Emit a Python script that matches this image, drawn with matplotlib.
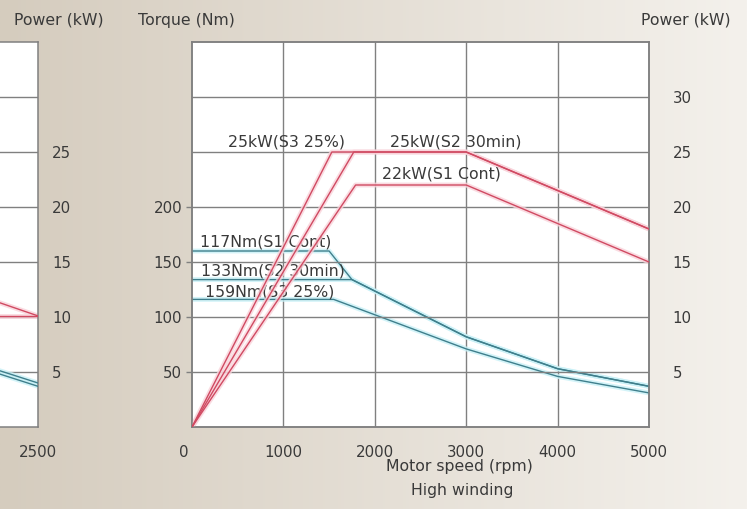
import numpy as np
import matplotlib
matplotlib.use("Agg")
import matplotlib.pyplot as plt
import matplotlib.transforms as mtransforms

plt.rcParams['font.family'] = ['DejaVu Sans']

# ---------------- data ----------------
# Torque curves (Nm) vs motor speed (rpm)
spd_t_s3 = [0, 1500, 1750, 3000, 4000, 5000]
trq_s3 = [160, 160, 134, 82, 53, 37]
spd_t_s2 = [0, 1750, 3000, 4000, 5000]
trq_s2 = [134, 134, 82, 53, 37]
spd_t_s1 = [0, 1550, 3000, 4000, 5000]
trq_s1 = [116, 116, 71, 46, 31]

# Power curves (kW) vs motor speed (rpm)
spd_p_s3 = [0, 1530, 3000, 5000]
pwr_s3 = [0, 25, 25, 18]
spd_p_s2 = [0, 1770, 3000, 5000]
pwr_s2 = [0, 25, 25, 18]
spd_p_s1 = [0, 1790, 3000, 5000]
pwr_s1 = [0, 22, 22, 15]

# cropped neighbouring chart (right edge only)
left_spd = [2237, 2500]
left_pwr_a = [11.6, 10.1]
left_pwr_b = [10.1, 10.1]
left_trq_a = [5.4, 4.0]
left_trq_b = [5.1, 3.7]

x_ticks = [0, 1000, 2000, 3000, 4000, 5000]
torque_ticks = [50, 100, 150, 200]
power_ticks = [5, 10, 15, 20, 25, 30]
left_power_ticks = [5, 10, 15, 20, 25]

power_labels = ["25kW(S3 25%)", "25kW(S2 30min)", "22kW(S1 Cont)"]
power_label_pos = [(1030, 25.9), (2890, 25.9), (2725, 23.0)]
torque_labels = ["117Nm(S1 Cont)", "133Nm(S2 30min)", "159Nm(S3 25%)"]
torque_label_pos = [(810, 168), (890, 142), (855, 123)]

# ---------------- style ----------------
RED = "#d04a62"
RED_HALO = "#f9d3da"
CYAN = "#3f7f8c"
CYAN_HALO = "#c9f1f7"
GRID = "#808080"
TXT = "#3a3a3a"
FS = 11.3

W, H = 747, 509
fig = plt.figure(figsize=(W / 100, H / 100), dpi=100)

# background gradient
bg = fig.add_axes([0, 0, 1, 1], zorder=-10)
xs = np.linspace(0, 1, 256)
c0 = np.array([213, 204, 190]) / 255
c1 = np.array([244, 241, 236]) / 255
grad = c0[None, :] * (1 - xs[:, None]) + c1[None, :] * xs[:, None]
img = np.repeat(grad[None, :, :], 2, axis=0)
bg.imshow(img, aspect='auto', extent=[0, 1, 0, 1])
bg.axis('off')

def px(x0, y0, x1, y1):
    return [x0 / W, 1 - y1 / H, (x1 - x0) / W, (y1 - y0) / H]

# ---------------- main chart ----------------
ax = fig.add_axes(px(192, 42, 649, 427))
ax.set_facecolor("white")
ax.set_xlim(0, 5000)
ax.set_ylim(0, 350)
axp = ax.twinx()
axp.set_ylim(0, 35)

for a in (ax, axp):
    for s in a.spines.values():
        s.set_color(GRID)
        s.set_linewidth(1.1)

# grid
for xv in x_ticks[1:-1]:
    ax.axvline(xv, color=GRID, lw=1.0, zorder=1)
for pv in power_ticks:
    axp.axhline(pv, color=GRID, lw=1.0, zorder=1)

def draw(a, x, y, color, halo):
    a.plot(x, y, color=halo, lw=3.5, solid_capstyle='butt', zorder=2, alpha=0.8)
    a.plot(x, y, color=color, lw=1.0, zorder=3)

draw(ax, spd_t_s3, trq_s3, CYAN, CYAN_HALO)
draw(ax, spd_t_s2, trq_s2, CYAN, CYAN_HALO)
draw(ax, spd_t_s1, trq_s1, CYAN, CYAN_HALO)
draw(axp, spd_p_s3, pwr_s3, RED, RED_HALO)
draw(axp, spd_p_s2, pwr_s2, RED, RED_HALO)
draw(axp, spd_p_s1, pwr_s1, RED, RED_HALO)

ax.set_xticks(x_ticks)
ax.set_xticklabels([str(v) for v in x_ticks])
ax.set_yticks(torque_ticks)
ax.tick_params(axis='x', length=0, pad=13, labelsize=10.8, labelcolor=TXT)
ax.tick_params(axis='y', length=4, width=1.0, color=GRID, pad=3, labelsize=10.8, labelcolor=TXT)
axp.set_yticks(power_ticks)
axp.tick_params(axis='y', length=0, pad=17, labelsize=10.8, labelcolor=TXT)
# shift the "0" label a little to the left
lbl0 = ax.get_xticklabels()[0]
lbl0.set_transform(lbl0.get_transform() + mtransforms.ScaledTranslation(-8 / 100, 0, fig.dpi_scale_trans))

for t, (xv, yv) in zip(power_labels, power_label_pos):
    axp.text(xv, yv, t, ha='center', va='center', fontsize=FS, color=TXT, zorder=5)
for t, (xv, yv) in zip(torque_labels, torque_label_pos):
    ax.text(xv, yv, t, ha='center', va='center', fontsize=FS, color=TXT, zorder=5)

# ---------------- cropped chart on the left ----------------
axl = fig.add_axes(px(-10, 42, 38, 427))
axl.set_facecolor("white")
axl.set_xlim(left_spd[0], left_spd[1])
axl.set_ylim(0, 35)
for s in axl.spines.values():
    s.set_color(GRID)
    s.set_linewidth(1.1)
for pv in power_ticks:
    axl.axhline(pv, color=GRID, lw=1.0, zorder=1)
draw(axl, left_spd, left_pwr_a, RED, RED_HALO)
draw(axl, left_spd, left_pwr_b, RED, RED_HALO)
draw(axl, left_spd, left_trq_a, CYAN, CYAN_HALO)
draw(axl, left_spd, left_trq_b, CYAN, CYAN_HALO)
axl.yaxis.tick_right()
axl.set_yticks(left_power_ticks)
axl.tick_params(axis='y', length=0, pad=10, labelsize=10.8, labelcolor=TXT)
axl.set_xticks([2500])
axl.tick_params(axis='x', length=0, pad=13, labelsize=10.8, labelcolor=TXT)

# ---------------- titles ----------------
fig.text(59 / W, 1 - 20 / H, "Power (kW)", ha='center', va='center', fontsize=FS, color=TXT)
fig.text(186 / W, 1 - 21 / H, "Torque (Nm)", ha='center', va='center', fontsize=FS, color=TXT)
fig.text(686 / W, 1 - 20 / H, "Power (kW)", ha='center', va='center', fontsize=FS, color=TXT)
fig.text(459 / W, 1 - 467 / H, "Motor speed (rpm)", ha='center', va='center', fontsize=FS, color=TXT)
fig.text(462 / W, 1 - 491 / H, "High winding", ha='center', va='center', fontsize=FS, color=TXT)

fig.savefig("out.png", dpi=100)
